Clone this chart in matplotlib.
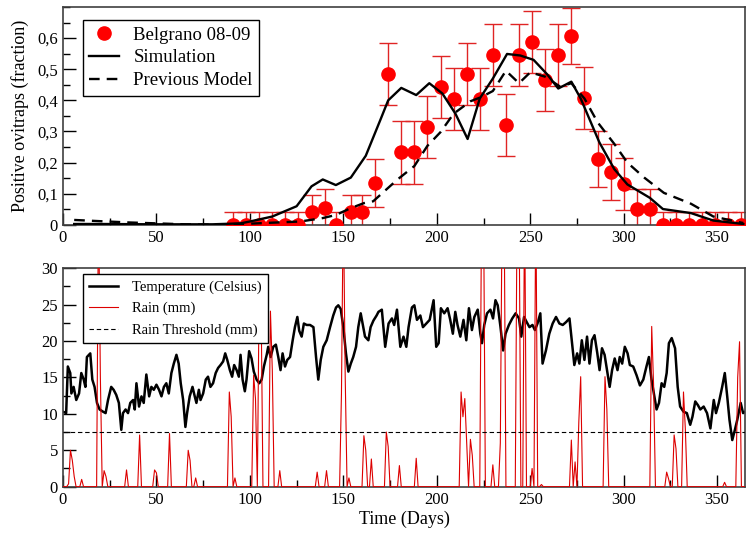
import numpy as np
import matplotlib.pyplot as plt
from matplotlib.lines import Line2D
from matplotlib.ticker import MultipleLocator, FixedLocator, FixedFormatter

plt.rcParams['font.family'] = ['Liberation Serif', 'DejaVu Serif']

# --- top panel: ovitrap data (Belgrano 08-09) ---
obs_days = [91, 98, 105, 112, 119, 126, 133, 140, 146, 154, 160, 167, 174, 181,
            188, 195, 202, 209, 216, 223, 230, 237, 244, 251, 258, 265, 272, 279,
            286, 293, 300, 307, 314, 321, 328, 335, 342, 349, 356, 363]
obs_frac = [0, 0, 0, 0, 0, 0, 0.04, 0.055, 0, 0.04, 0.04, 0.135, 0.484, 0.233,
            0.233, 0.314, 0.444, 0.405, 0.484, 0.405, 0.546, 0.322, 0.546, 0.587,
            0.465, 0.546, 0.608, 0.408, 0.211, 0.17, 0.132, 0.051, 0.051, 0,
            0, 0, 0, 0, 0, 0]
obs_err = [0.04, 0.04, 0.04, 0.04, 0.04, 0.04, 0.057, 0.06, 0.04, 0.057, 0.057,
           0.076, 0.1, 0.1, 0.1, 0.1, 0.1, 0.1, 0.1, 0.1, 0.1, 0.1, 0.1, 0.1,
           0.1, 0.1, 0.09, 0.1, 0.09, 0.09, 0.083, 0.063, 0.063, 0.04, 0.04,
           0.04, 0.04, 0.04, 0.04, 0.04]

sim_days = [6, 20, 50, 80, 95, 100, 112, 125, 133, 139, 146, 154, 162, 170, 174,
            181, 189, 196, 203, 210, 216.5, 223, 230, 237.6, 244.7, 251.8, 259,
            265, 272, 277, 287, 295, 302, 314, 321, 336, 348, 364]
sim_frac = [0.003, 0.003, 0.002, 0.002, 0.005, 0.011, 0.027, 0.06, 0.124, 0.146,
            0.128, 0.152, 0.222, 0.34, 0.40, 0.44, 0.417, 0.455, 0.422, 0.357,
            0.276, 0.406, 0.47, 0.549, 0.544, 0.53, 0.484, 0.438, 0.46, 0.406,
            0.265, 0.179, 0.13, 0.087, 0.051, 0.038, 0.014, 0.003]

prev_days = [6, 20, 35, 50, 65, 80, 100, 115, 127, 139, 146, 154, 161, 166, 171,
             179, 188, 195, 202, 209, 218, 224, 230, 237, 244, 250, 258, 266,
             272, 279, 286, 295, 302, 311, 321.5, 336, 348, 364]
prev_frac = [0.016, 0.012, 0.008, 0.005, 0.002, 0.001, 0.004, 0.008, 0.011,
             0.022, 0.032, 0.054, 0.07, 0.076, 0.103, 0.146, 0.189, 0.254, 0.298,
             0.357, 0.397, 0.411, 0.43, 0.495, 0.455, 0.49, 0.476, 0.444, 0.455,
             0.406, 0.33, 0.26, 0.2, 0.152, 0.103, 0.068, 0.027, 0.006]

# --- bottom panel: weather ---
temp_days = [0, 1.7, 2.6, 3.9, 4.5, 5.7, 7.1, 8.6, 9.8, 11.1, 12, 12.8, 13.9, 14.6,
             15.7, 16.9, 18.2, 19.6, 21.4, 22.8, 24.1, 25.8, 27.1, 28.5, 29.9,
             31.2, 32.1, 33.5, 34.8, 36, 37.5, 38.4, 39.3, 40.7, 42, 43.2, 44.6,
             46.1, 47.3, 48.6, 50, 51.4, 52.7, 54, 55.3, 56.6, 58, 59.3, 60.7,
             61.9, 63, 64.3, 65.5, 66.4, 67.8, 69.3, 70.5, 71.4, 72.7, 73.6, 75,
             76.4, 77.6, 78.9, 80.3, 81.7, 83, 84.3, 85.7, 86.8, 87.9, 89.3, 90.5,
             91.6, 92.9, 94.1, 95, 96.1, 97.3, 98.2, 99.6, 100.9, 102.1, 103.6,
             105, 106.3, 107.5, 109, 109.8, 111.1, 112.5, 113.9, 115.2, 116.4,
             117.5, 118.8, 120, 121.5, 122.9, 124.1, 125.4, 126.4, 127.7, 128.9,
             130.4, 132.2, 134, 135.4, 136.6, 137.9, 139.3, 141.1, 142.9, 144.6,
             146.1, 147.3, 148.6, 150, 151.4, 152.7, 154, 155.3, 156.8, 158,
             159.3, 160.3, 161.6, 163.4, 164.6, 166.1, 167.8, 168.8, 170.6, 172.4,
             174.2, 176, 177.2, 178.7, 180.5, 182.2, 183.7, 184.9, 186.7, 188,
             189.4, 191.2, 192.6, 194.4, 196.2, 198.3, 199.7, 201, 202.2, 204,
             205.8, 207.2, 208.6, 209.9, 211.1, 212.6, 214.3, 215.8, 217.2, 218.8,
             220.1, 221.9, 223.3, 224.2, 225.4, 226.9, 228.7, 230.1, 231.4, 232.6,
             234.1, 235.5, 236.8, 238.6, 240.4, 242.2, 244, 245.2, 246.7, 248.1,
             249.6, 251.2, 252.5, 253.9, 255.4, 256.6, 258.4, 260.2, 262, 263.8,
             265.6, 267.4, 269.2, 271, 272.4, 273.6, 275.1, 276.3, 277.6, 279,
             280.4, 281.7, 283, 284.4, 285.9, 287.1, 288.4, 289.8, 291.3, 292.5,
             293.8, 295.2, 296.7, 297.9, 299.2, 300.6, 302.1, 303.3, 305.1, 306.9,
             308.7, 310.5, 312.2, 313.5, 314.9, 316.4, 317.6, 318.9, 320.3, 321.7,
             323, 324.2, 325.7, 327.5, 328.9, 330.2, 332, 333.8, 335.6, 336.8,
             338.3, 339.7, 341, 342.8, 344.6, 346.4, 348.2, 349.4, 350.9, 352.7,
             354.1, 355.4, 356.6, 358.1, 359.5, 360.8, 362.6, 363.9, 365]
temp_vals = [10.3, 10.1, 16.5, 15.6, 12.8, 13.7, 11.9, 12.8, 15.6, 14.7, 13.7, 17.8,
             18.1, 18.3, 14.7, 13.7, 11.5, 10.6, 10.3, 10.1, 11.9, 13.7, 13.3, 12.6,
             11.5, 7.8, 10.1, 10.6, 10.1, 11.5, 11.9, 10.6, 14.2, 11.0, 12.4, 11.5,
             15.4, 12.4, 13.7, 13.3, 14.0, 13.3, 12.4, 13.7, 14.2, 12.8, 15.6, 16.9,
             18.1, 16.9, 14.2, 11.9, 8.2, 10.1, 12.4, 13.7, 12.4, 11.5, 13.3, 11.9,
             12.8, 14.7, 15.1, 13.7, 14.2, 15.6, 16.3, 16.7, 17.2, 18.3, 17.4, 16.0,
             15.1, 16.7, 16.0, 15.1, 18.1, 14.7, 13.1, 14.7, 18.6, 17.6, 15.8, 14.7,
             14.2, 14.7, 16.5, 18.1, 19.2, 17.8, 19.2, 19.5, 17.8, 16.0, 18.3, 16.5,
             17.4, 17.8, 20.1, 21.9, 23.3, 21.4, 20.6, 22.4, 22.2, 22.2, 21.9, 17.8,
             14.7, 17.4, 19.2, 20.1, 21.9, 23.5, 24.6, 24.9, 24.4, 21.9, 18.3, 15.8,
             16.9, 17.8, 19.2, 21.9, 23.8, 22.4, 20.6, 20.1, 21.9, 22.8, 23.5, 24.0,
             24.3, 19.2, 22.4, 23.1, 22.2, 24.3, 19.2, 20.6, 19.2, 21.9, 24.6, 24.9,
             22.9, 23.5, 21.9, 22.4, 22.9, 25.6, 19.2, 19.7, 24.5, 23.8, 24.5, 22.9,
             21.0, 24.0, 22.2, 20.6, 22.9, 20.1, 24.5, 21.5, 23.3, 24.3, 21.0, 19.7,
             22.2, 23.8, 24.3, 23.1, 25.6, 24.9, 21.9, 18.7, 21.0, 22.2, 23.1, 23.8,
             23.1, 20.6, 23.3, 22.6, 21.9, 22.2, 21.5, 22.4, 23.8, 16.9, 18.7, 21.0,
             22.4, 23.3, 22.4, 22.2, 22.6, 23.1, 19.7, 16.7, 18.3, 16.9, 20.1, 17.4,
             20.6, 16.9, 20.1, 20.8, 18.3, 16.0, 19.0, 18.1, 15.6, 13.7, 16.0, 17.6,
             16.0, 17.8, 16.9, 19.2, 18.3, 16.7, 16.5, 15.3, 13.9, 14.7, 16.5, 17.8,
             14.7, 12.4, 10.6, 11.5, 14.2, 13.7, 15.6, 19.7, 20.4, 19.0, 13.7, 11.0,
             10.3, 10.1, 8.5, 9.6, 11.7, 11.2, 10.6, 11.0, 10.1, 8.0, 11.9, 10.1,
             11.5, 13.7, 15.6, 12.4, 9.2, 6.4, 7.8, 9.2, 11.5, 10.1, 10.3]

rain_days = [3, 4, 5, 6, 10, 19, 20, 22, 23, 34, 41, 49, 50, 57, 67, 68, 71, 89,
             90, 92, 102, 103, 105, 106, 111, 112, 116, 136, 141, 149, 150, 151,
             153, 161, 162, 165, 173, 174, 180, 189, 213, 214, 215, 216, 218, 219,
             224, 225, 230, 234, 235, 236, 243, 244, 247, 251, 253, 256, 272, 274,
             276, 277, 290, 291, 315, 316, 323, 324, 327, 328, 332, 333, 354, 361,
             362]
rain_mm = [0.4, 5.0, 3.6, 1.4, 1.0, 40, 15.1, 2.2, 1.4, 2.3, 7.1, 2.3, 1.9, 7.3,
           5.0, 3.6, 1.2, 13.0, 9.6, 1.2, 15.3, 12.1, 28, 25, 24.1, 16, 2.2, 2.0,
           2.2, 12.8, 40, 15.2, 1.2, 7.0, 5.0, 3.8, 7.5, 5.5, 2.9, 3.9, 13.0, 9.6,
           12.1, 5.9, 6.5, 4.3, 40, 40, 3.0, 6.0, 40, 40, 40, 40, 40, 2.5, 40, 0.3,
           6.4, 3.4, 8.9, 15.1, 15.1, 10.6, 22.0, 14.0, 2.0, 1.1, 7.1, 5.2, 13.0,
           7.9, 0.6, 15.0, 19.9]
rain_threshold = 7.5

x_ticks = [0, 50, 100, 150, 200, 250, 300, 350]
frac_ticks = [0, 0.1, 0.2, 0.3, 0.4, 0.5, 0.6]
frac_labels = ['0', '0,1', '0,2', '0,3', '0,4', '0,5', '0,6']

# daily rain series (dry days are zero)
all_days = np.arange(0, 366)
rain_series = np.zeros(len(all_days))
rain_series[rain_days] = rain_mm


def style_axes(ax):
    ax.tick_params(which='both', direction='in', top=False, right=False,
                   labelsize=12, colors='black')
    ax.tick_params(which='major', length=9, width=1)
    ax.tick_params(which='minor', length=5, width=1)
    for s in ax.spines.values():
        s.set_linewidth(1.2)
        s.set_color('0.25')


fig = plt.figure(figsize=(7.48, 5.33), dpi=100)
ax1 = fig.add_axes([0.0842, 0.578, 0.912, 0.409])
ax2 = fig.add_axes([0.0842, 0.0869, 0.912, 0.410])

# top panel
ax1.errorbar(obs_days, obs_frac, yerr=obs_err, fmt='none', ecolor='#e02424',
             elinewidth=1.0, capsize=6.5, capthick=1.0, zorder=2)
ax1.plot(obs_days, obs_frac, 'o', color='#ff0000', markersize=9.5, zorder=3)
ax1.plot(sim_days, sim_frac, color='black', lw=1.7, zorder=4)
ax1.plot(prev_days, prev_frac, color='black', lw=1.7, dashes=(4.5, 3.0), zorder=4)
ax1.set_xlim(0, 365)
ax1.set_ylim(0, 0.7)
ax1.set_xticks(x_ticks)
ax1.xaxis.set_minor_locator(MultipleLocator(25))
ax1.yaxis.set_major_locator(FixedLocator(frac_ticks))
ax1.yaxis.set_major_formatter(FixedFormatter(frac_labels))
ax1.yaxis.set_minor_locator(MultipleLocator(0.05))
ax1.set_ylabel('Positive ovitraps (fraction)', fontsize=13, labelpad=6)
style_axes(ax1)

h1 = [Line2D([], [], ls='none', marker='o', color='#ff0000', markersize=9.5),
      Line2D([], [], color='black', lw=1.7),
      Line2D([], [], color='black', lw=1.7, dashes=(4.5, 3.0))]
leg1 = ax1.legend(h1, ['Belgrano 08-09', 'Simulation', 'Previous Model'],
                  loc='upper left', bbox_to_anchor=(0.029, 0.94),
                  borderaxespad=0, fontsize=13.5, frameon=True, fancybox=False,
                  edgecolor='black', framealpha=1, handlelength=1.6,
                  labelspacing=0.3, borderpad=0.35, handletextpad=0.75)
leg1.get_frame().set_linewidth(1.0)

# bottom panel
ax2.plot(temp_days, temp_vals, color='black', lw=1.8, zorder=2)
ax2.plot(all_days, rain_series, color='#dd0000', lw=0.8, zorder=3)
ax2.axhline(rain_threshold, color='black', lw=0.8, dashes=(4, 2.5), zorder=4)
ax2.set_xlim(0, 365)
ax2.set_ylim(0, 30)
ax2.set_xticks(x_ticks)
ax2.xaxis.set_minor_locator(MultipleLocator(25))
ax2.yaxis.set_major_locator(MultipleLocator(5))
ax2.yaxis.set_minor_locator(MultipleLocator(2.5))
ax2.set_xlabel('Time (Days)', fontsize=13, labelpad=2)
style_axes(ax2)

h2 = [Line2D([], [], color='black', lw=1.8),
      Line2D([], [], color='#dd0000', lw=0.8),
      Line2D([], [], color='black', lw=0.8, dashes=(4, 2.5))]
leg2 = ax2.legend(h2, ['Temperature (Celsius)', 'Rain (mm)', 'Rain Threshold (mm)'],
                  loc='upper left', bbox_to_anchor=(0.029, 0.974),
                  borderaxespad=0, fontsize=10.5, frameon=True, fancybox=False,
                  edgecolor='black', framealpha=1, handlelength=2.0,
                  labelspacing=0.55, borderpad=0.45, handletextpad=0.9)
leg2.get_frame().set_linewidth(1.0)
leg2.set_zorder(10)

fig.savefig('out.png', dpi=100)
